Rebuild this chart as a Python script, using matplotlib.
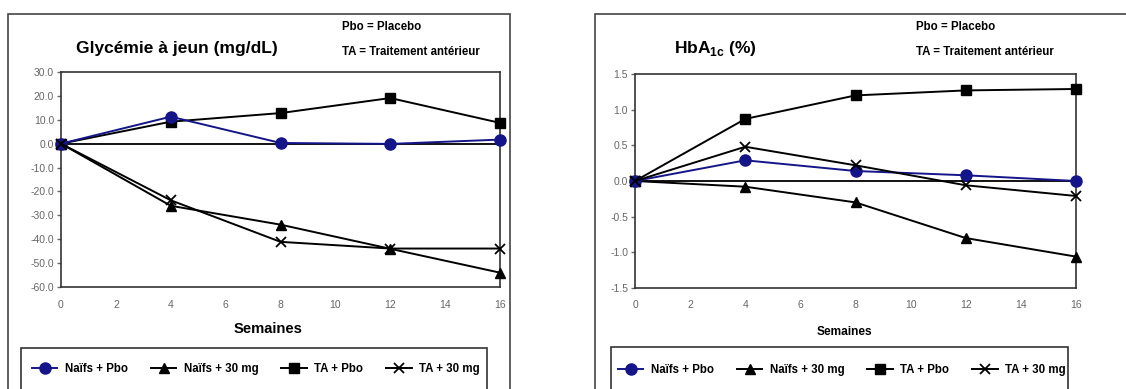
import matplotlib
matplotlib.use("Agg")
import matplotlib.pyplot as plt
from matplotlib.patches import Rectangle

plt.rcParams['font.family'] = ['Liberation Sans', 'DejaVu Sans']
plt.rcParams['axes.unicode_minus'] = False
plt.rcParams['mathtext.fontset'] = 'custom'
plt.rcParams['mathtext.rm'] = 'Liberation Sans'
plt.rcParams['mathtext.bf'] = 'Liberation Sans:bold'

# semaines
semaines = [0, 4, 8, 12, 16]

# glycémie à jeun (mg/dL), variation
gly_naifs_pbo = [0, 11.3, 0.3, -0.1, 1.7]
gly_naifs_30 = [0, -26.0, -33.9, -44.0, -54.0]
gly_ta_pbo = [0, 9.2, 12.8, 19.1, 8.7]
gly_ta_30 = [0, -23.7, -41.1, -43.9, -43.9]

# HbA1c (%), variation
hba_naifs_pbo = [0, 0.29, 0.14, 0.08, 0.0]
hba_naifs_30 = [0, -0.08, -0.30, -0.80, -1.06]
hba_ta_pbo = [0, 0.87, 1.20, 1.27, 1.29]
hba_ta_30 = [0, 0.48, 0.22, -0.06, -0.21]

labels = ["Naïfs + Pbo", "Naïfs + 30 mg", "TA + Pbo", "TA + 30 mg"]
gly_yticks = [30, 20, 10, 0, -10, -20, -30, -40, -50, -60]
hba_yticks = [1.5, 1.0, 0.5, 0.0, -0.5, -1.0, -1.5]
xticks = [0, 2, 4, 6, 8, 10, 12, 14, 16]

BLUE = '#15158a'
W, H = 1126, 389


def fx(px):
    return px / W


def fy(py):
    return 1 - py / H


def draw_panel(ax, series, yticks, ylim):
    naifs_pbo, naifs_30, ta_pbo, ta_30 = series
    h2, = ax.plot(semaines, naifs_30, color='black', lw=1.4, marker='^', ms=6.5,
                  clip_on=False, zorder=3)
    h3, = ax.plot(semaines, ta_pbo, color='black', lw=1.4, marker='s', ms=7,
                  clip_on=False, zorder=3)
    h1, = ax.plot(semaines, naifs_pbo, color=BLUE, lw=1.4, marker='o', ms=8,
                  clip_on=False, zorder=4)
    h4, = ax.plot(semaines, ta_30, color='black', lw=1.4, marker='x', ms=7.5,
                  mew=1.3, clip_on=False, zorder=5)
    ax.axhline(0, color='black', lw=1.3, zorder=2)
    ax.set_xlim(0, 16)
    ax.set_ylim(*ylim)
    ax.set_xticks(xticks)
    ax.set_yticks(yticks)
    ax.tick_params(axis='x', length=0, pad=9, labelsize=7.5, colors='#666666')
    ax.tick_params(axis='y', length=3, width=1, pad=2, labelsize=7.5,
                   colors='#666666')
    for s in ax.spines.values():
        s.set_color('#333333')
        s.set_linewidth(1.2)
    return [h1, h2, h3, h4]


fig = plt.figure(figsize=(11.26, 3.89), dpi=100)

ax1 = fig.add_axes([fx(61), fy(287), fx(500 - 61), (287 - 72) / H])
ax2 = fig.add_axes([fx(635), fy(288), fx(1076 - 635), (288 - 74) / H])

hs1 = draw_panel(ax1, [gly_naifs_pbo, gly_naifs_30, gly_ta_pbo, gly_ta_30],
                 gly_yticks, (-60, 30))
ax1.set_yticklabels([f"{v:.1f}" for v in gly_yticks])
hs2 = draw_panel(ax2, [hba_naifs_pbo, hba_naifs_30, hba_ta_pbo, hba_ta_30],
                 hba_yticks, (-1.5, 1.5))
ax2.set_yticklabels([f"{v:.1f}" for v in hba_yticks])

# cadres extérieurs
fig.add_artist(Rectangle((fx(8), -0.2), fx(510 - 8), fy(14) + 0.2,
                         transform=fig.transFigure, fill=False,
                         edgecolor='#444444', lw=1.2))
fig.add_artist(Rectangle((fx(595), -0.2), 0.6, fy(14) + 0.2,
                         transform=fig.transFigure, fill=False,
                         edgecolor='#444444', lw=1.2))
# cadres des légendes
fig.add_artist(Rectangle((fx(21), -0.2), fx(487 - 21), fy(348) + 0.2,
                         transform=fig.transFigure, fill=False,
                         edgecolor='#333333', lw=1.2))
fig.add_artist(Rectangle((fx(611), -0.2), fx(1068 - 611), fy(347) + 0.2,
                         transform=fig.transFigure, fill=False,
                         edgecolor='#333333', lw=1.2))

# titres et notes
fig.text(fx(177), fy(49), "Glycémie à jeun (mg/dL)", ha='center', va='center',
         fontsize=12.5, fontweight='bold')
fig.text(fx(715), fy(49), r"HbA$_{\mathbf{1c}}$ (%)", ha='center', va='center',
         fontsize=12.5, fontweight='bold')
for x0 in (342, 916):
    fig.text(fx(x0), fy(27), "Pbo = Placebo", ha='left', va='center',
             fontsize=8.3, fontweight='bold')
    fig.text(fx(x0), fy(52), "TA = Traitement antérieur", ha='left',
             va='center', fontsize=8.3, fontweight='bold')

fig.text(fx(268), fy(329), "Semaines", ha='center', va='center',
         fontsize=10.6, fontweight='bold')
fig.text(fx(844), fy(332), "Semaines", ha='center', va='center',
         fontsize=8.6, fontweight='bold')

for hs, x0, y0 in ((hs1, 32, 369), (hs2, 618, 370)):
    fig.legend(hs, labels, loc='center left', bbox_to_anchor=(fx(x0), fy(y0)),
               ncol=4, frameon=False, handlelength=2.2,
               handletextpad=0.65, columnspacing=2.0, borderpad=0,
               borderaxespad=0, prop={'weight': 'bold', 'size': 8.3})

fig.savefig("out.png", dpi=100)
